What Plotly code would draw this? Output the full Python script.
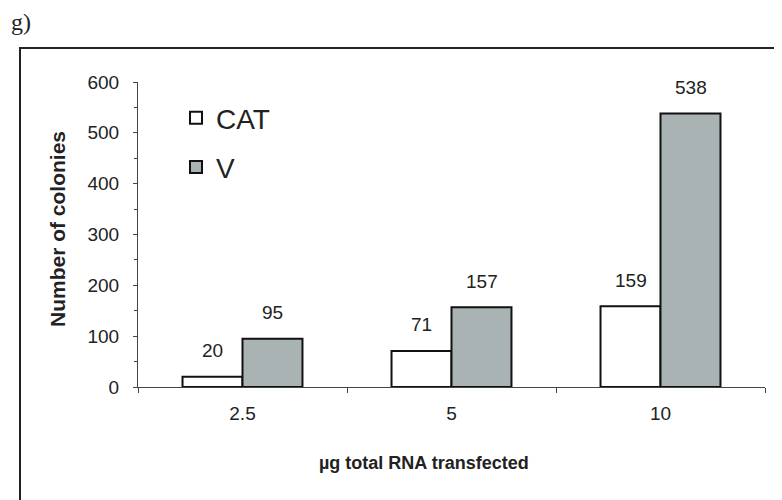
import plotly.graph_objects as go

categories = ["2.5", "5", "10"]
cat_values = [20, 71, 159]
v_values = [95, 157, 538]
series_names = ["CAT", "V"]
y_ticks = [0, 100, 200, 300, 400, 500, 600]

OFF = 8  # page body margin
W, H = 782, 500
L, T = 138 - OFF, 82 - OFF
R, B = W - (765 - OFF), H - (387 - OFF)
pw, ph = W - L - R, H - T - B

def px_x(x):
    return (x - OFF - L) / pw

def px_y(y):
    return (H - B - (y - OFF)) / ph

font = "Liberation Sans, Arial, sans-serif"

fig = go.Figure()
fig.add_trace(go.Bar(x=categories, y=cat_values, name=series_names[0], legendgroup="a",
                     marker=dict(color="white", line=dict(color="#111", width=2))))
fig.add_trace(go.Bar(x=categories, y=v_values, name=series_names[1], legendgroup="b",
                     marker=dict(color="#a9b3b3", line=dict(color="#111", width=2))))

for i, c in enumerate(categories):
    fig.add_annotation(x=i, y=cat_values[i], text=str(cat_values[i]), xshift=-30,
                       yshift=26, showarrow=False, xanchor="center", yanchor="middle",
                       font=dict(size=19, color="#222", family=font))
    fig.add_annotation(x=i, y=v_values[i], text=str(v_values[i]), xshift=30,
                       yshift=26, showarrow=False, xanchor="center", yanchor="middle",
                       font=dict(size=19, color="#222", family=font))

fig.update_layout(
    width=W, height=H,
    margin=dict(l=L, r=R, t=T, b=B),
    paper_bgcolor="white", plot_bgcolor="white",
    barmode="group", bargap=0.426, bargroupgap=0,
    font=dict(family=font, color="#222"),
    showlegend=True,
    legend=dict(x=px_x(176), y=px_y(93), xanchor="left", yanchor="top",
                font=dict(size=28, color="#222", family=font),
                bgcolor="rgba(0,0,0,0)", tracegroupgap=10, itemwidth=30),
    xaxis=dict(type="category", range=[-0.5, 2.5], showline=True, linecolor="#444",
               linewidth=1, ticks="outside", tickson="boundaries", ticklen=5,
               tickcolor="#444", tickfont=dict(size=19, color="#222"),
               ticklabelstandoff=9, showgrid=False, zeroline=False),
    yaxis=dict(range=[0, 600], tickvals=y_ticks, showline=True, linecolor="#444",
               linewidth=1, ticks="outside", ticklen=4, tickcolor="#444",
               minor=dict(dtick=50, ticks="outside", ticklen=3, tickcolor="#444"),
               tickfont=dict(size=19, color="#222"), ticklabelstandoff=10,
               showgrid=False, zeroline=False),
)

fig.add_annotation(xref="paper", yref="paper", x=px_x(57), y=px_y(229),
                   xanchor="center", yanchor="middle", textangle=-90,
                   text="<b>Number of colonies</b>", showarrow=False,
                   font=dict(size=21, color="#222", family=font))
fig.add_annotation(xref="paper", yref="paper", x=px_x(424), y=px_y(463),
                   xanchor="center", yanchor="middle",
                   text="<b>\u00b5g total RNA transfected</b>", showarrow=False,
                   font=dict(size=18, color="#222", family=font))
fig.add_annotation(xref="paper", yref="paper", x=px_x(9), y=px_y(22),
                   xanchor="left", yanchor="middle", text="g)", showarrow=False,
                   font=dict(size=24, color="#222",
                             family="Liberation Serif, Times New Roman, serif"))
fig.add_shape(type="rect", xref="paper", yref="paper",
              x0=px_x(20), x1=px_x(800), y0=px_y(48), y1=px_y(520),
              line=dict(color="#222", width=2), layer="below")

fig.write_html("out.html")
